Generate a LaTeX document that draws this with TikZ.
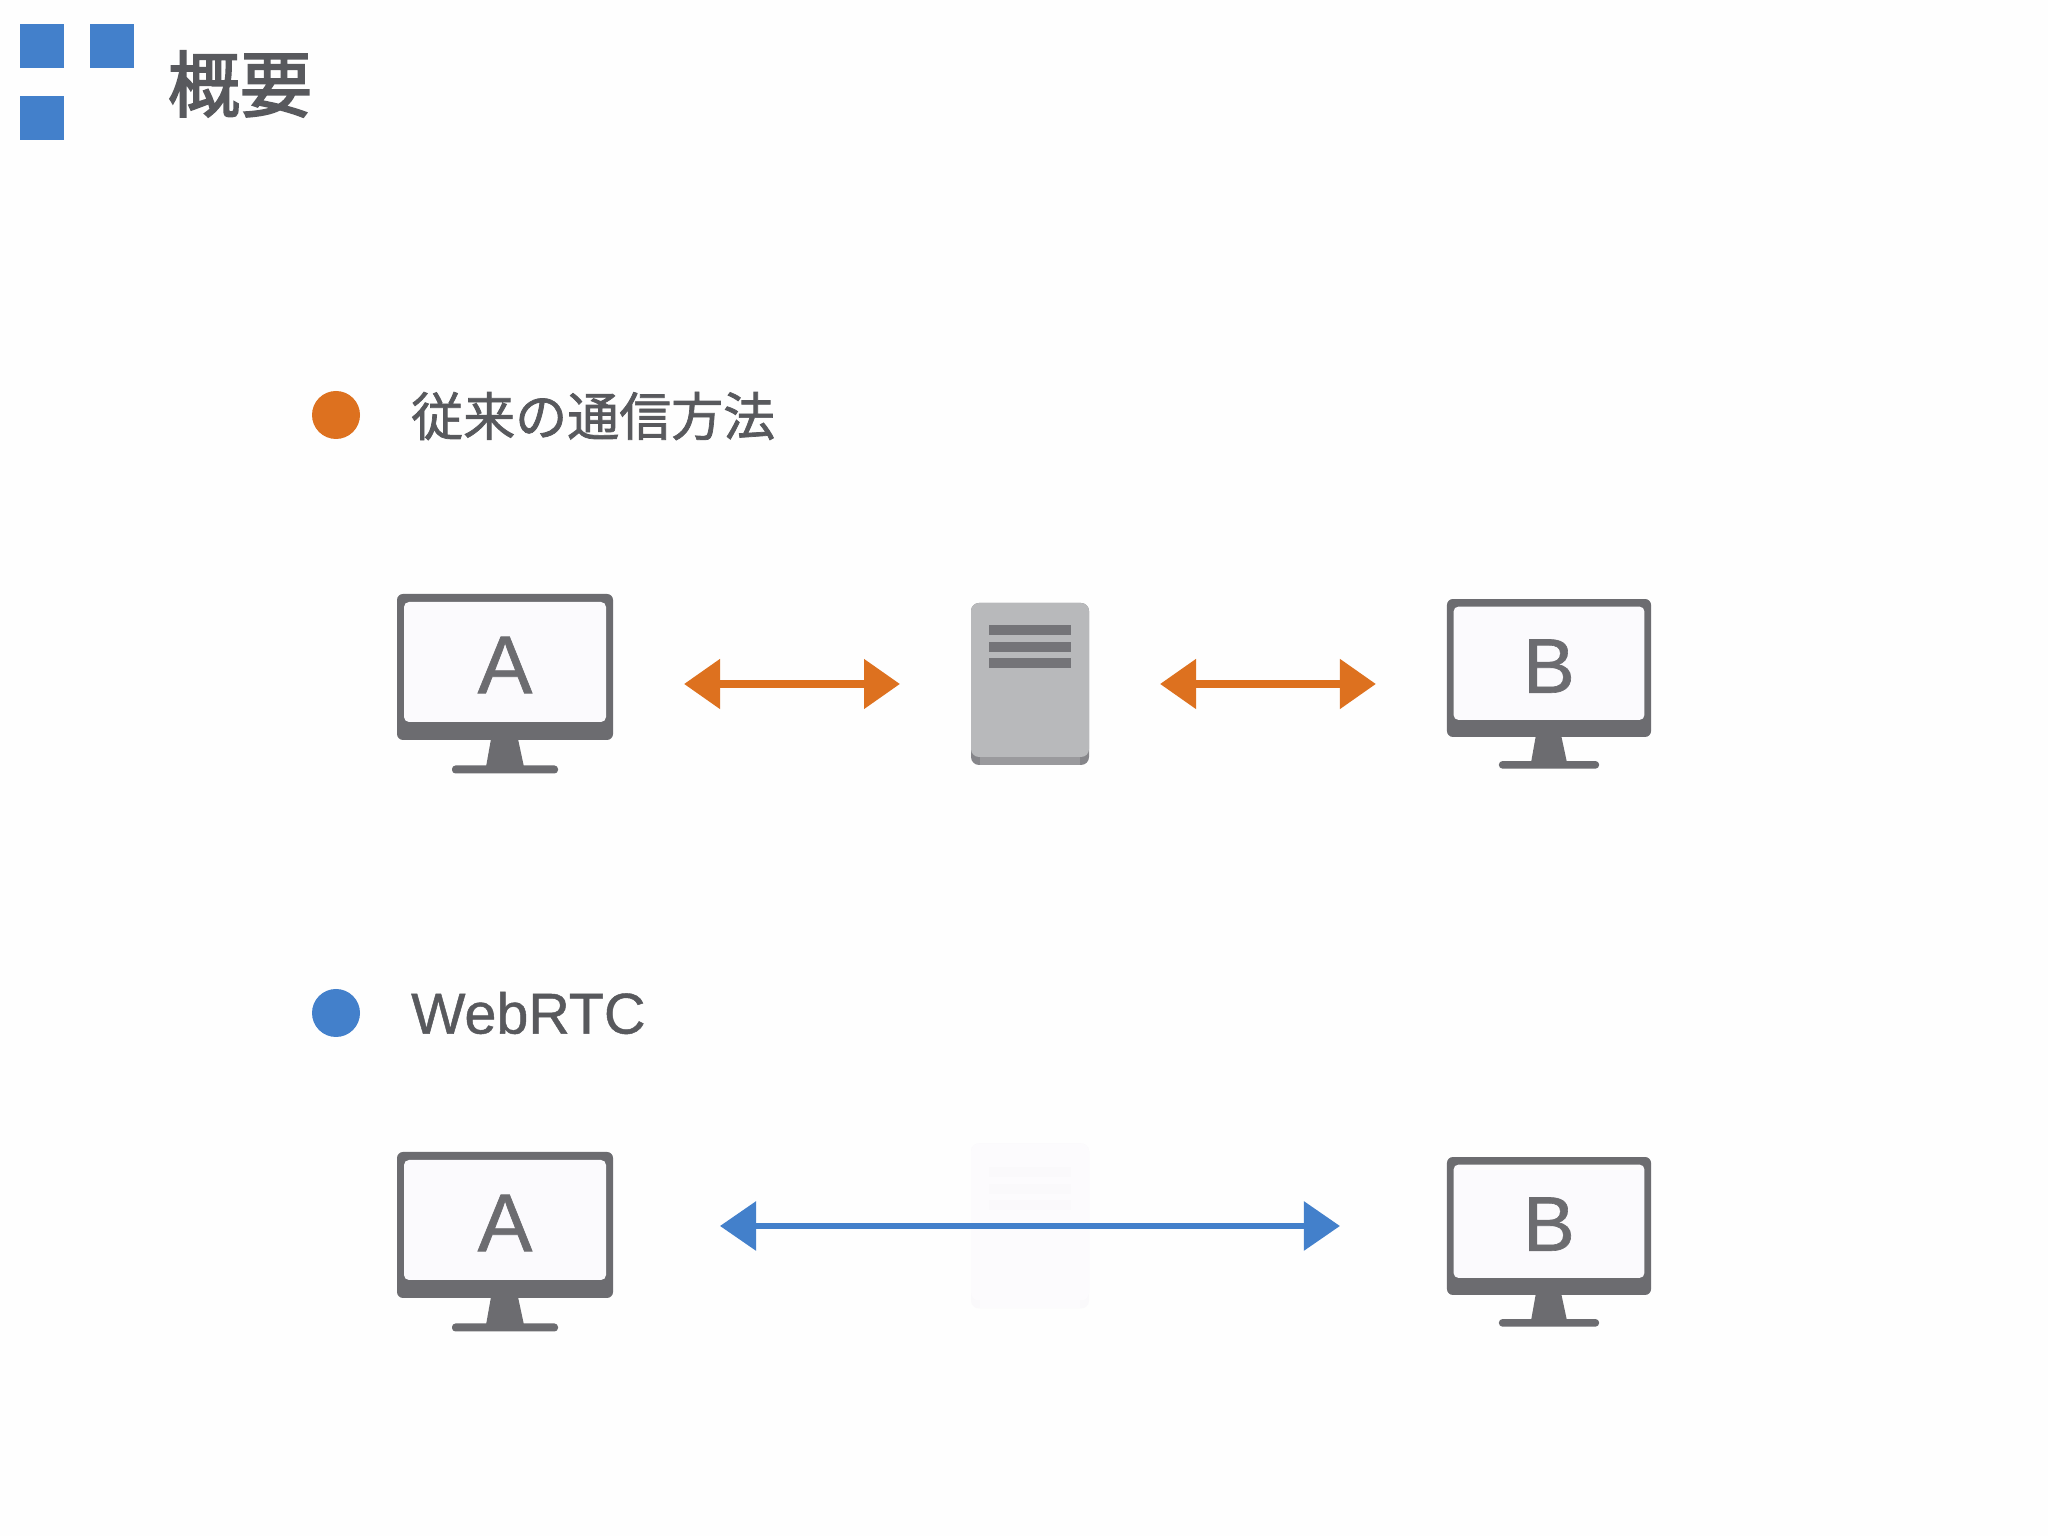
\documentclass[tikz,border=0pt]{standalone}
\usepackage{fontspec}
\setmainfont[FakeBold=0.8]{Liberation Sans}
\newfontfamily\cjk[FakeBold=1.4]{Noto Sans CJK JP}
\newfontfamily\cjkt[FakeBold=2.4]{Noto Sans CJK JP}
\usetikzlibrary{arrows.meta}
\definecolor{bgc}{HTML}{FEFEFE}
\definecolor{monc}{HTML}{6C6C70}
\definecolor{scrc}{HTML}{FBFAFD}
\definecolor{orc}{HTML}{DD711F}
\definecolor{blc}{HTML}{4380CB}
\definecolor{txtc}{HTML}{58595D}
\definecolor{srvc}{HTML}{B8B9BB}
\definecolor{srvd}{HTML}{86868A}
\definecolor{srvs}{HTML}{9A9A9D}
\definecolor{barc}{HTML}{747478}
\definecolor{ghostc}{HTML}{FCFBFD}
\definecolor{ghostb}{HTML}{FAF9FB}
\tikzset{
  x=1pt,y=1pt,
  sq/.style={fill=blc,draw=none,minimum size=44pt,inner sep=0pt,outer sep=0pt},
  bullet/.style={circle,draw=none,minimum size=48pt,inner sep=0pt},
  heading/.style={anchor=west,inner sep=0pt,text=txtc},
  frame/.style={fill=monc,draw=none,rounded corners=6pt,minimum width=216pt,minimum height=146pt,inner sep=0pt,outer sep=0pt},
  screen/.style={fill=scrc,draw=none,rounded corners=5pt,minimum width=202pt,minimum height=120pt,inner sep=0pt},
  letter/.style={inner sep=0pt,text=monc,font=\fontsize{82}{82}\selectfont},
  oarrow/.style={draw=orc,line width=8pt,shorten <=71pt,shorten >=71pt,
    {Triangle[length=36pt,width=48pt,fill=orc]}-{Triangle[length=36pt,width=48pt,fill=orc]}},
  barrow/.style={draw=blc,line width=6pt,shorten <=107pt,shorten >=107pt,
    {Triangle[length=36pt,width=48pt,fill=blc]}-{Triangle[length=36pt,width=48pt,fill=blc]}},
  srvbar/.style={draw=none,minimum width=82pt,minimum height=10pt,inner sep=0pt},
}
\newcommand{\monitorAt}[5]{%
  \begin{scope}[shift={(#2,#3)},scale=#4,transform shape]
    \fill[monc] (-14,-72) -- (13,-72) -- (19,-100) -- (-19,-100) -- cycle;
    \fill[monc,rounded corners=3.5pt] (-53,-98.5) rectangle (53,-106.5);
    \node[frame] (#1) at (0,0) {};
    \node[screen] (#1s) at (0,5) {};
    \node[letter] (#1t) at (0,2) {#5};
  \end{scope}}
\newcommand{\serverAt}[8]{%
  \node[fill=#4,draw=none,rounded corners=8pt,minimum width=118pt,minimum height=#3,inner sep=0pt,outer sep=0pt] (#1) at (1030,#2) {};
  \node[fill=#5,draw=none,minimum width=100pt,minimum height=10pt,inner sep=0pt] (#1f) at (1030,#2-#3/2+5) {};
  \node[fill=#6,draw=none,rounded corners=8pt,minimum width=118pt,minimum height=#3-8,inner sep=0pt] (#1t) at (1030,#2+4) {};
  \node[srvbar,fill=#7] (#1a) at (1030,#2+#8+17) {};
  \node[srvbar,fill=#7] (#1b) at (1030,#2+#8) {};
  \node[srvbar,fill=#7] (#1c) at (1030,#2+#8-16) {};
}
\begin{document}
\begin{tikzpicture}
\useasboundingbox (0,0) rectangle (2048,1536);
\fill[bgc] (0,0) rectangle (2048,1536);
% logo squares
\node[sq] (s1) at (42,1490) {};
\node[sq] (s2) at (112,1490) {};
\node[sq] (s3) at (42,1418) {};
\node[inner sep=0pt,text=txtc] (title) at (240,1452) {\cjkt\fontsize{72}{72}\selectfont 概要};
% section 1
\node[bullet,fill=orc] (b1) at (336,1121) {};
\node[heading] (h1) at (411,1120) {\cjk\fontsize{52}{52}\selectfont 従来の通信方法};
\monitorAt{A1}{505}{869}{1}{A}
\monitorAt{B1}{1549}{868}{.945}{B}
\serverAt{S1}{852}{162pt}{srvd}{srvs}{srvc}{barc}{37}
\draw[oarrow] (A1.east |- S1.west) -- (S1.west);
\draw[oarrow] (S1.east) -- (B1.west |- S1.east);
% section 2
\node[bullet,fill=blc] (b2) at (336,523) {};
\node[heading] (h2) at (411,523) {\fontsize{57.5}{57.5}\selectfont WebRTC};
\serverAt{S2}{310}{165pt}{ghostb}{ghostc}{ghostc}{ghostb}{37}
\monitorAt{A2}{505}{311}{1}{A}
\monitorAt{B2}{1549}{310}{.945}{B}
\draw[barrow] (A2.east |- S2.west) -- (B2.west |- S2.east);
\end{tikzpicture}
\end{document}
